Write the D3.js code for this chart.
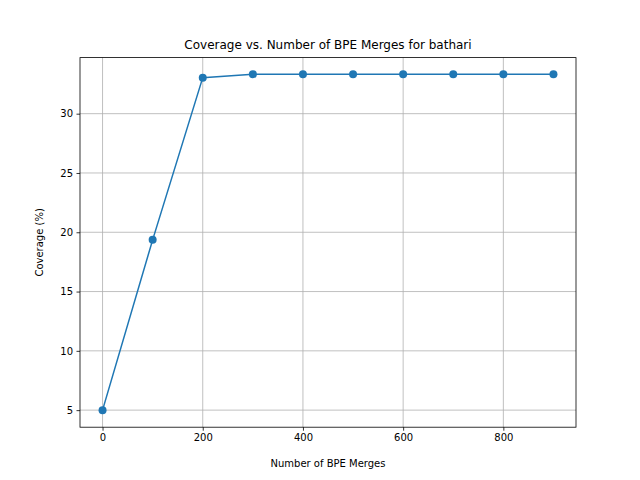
<!DOCTYPE html>
<html><head><meta charset="utf-8">
<script src="https://cdn.jsdelivr.net/npm/d3@7"></script>
<style>body{margin:0;background:#fff}text{font-family:"DejaVu Sans",sans-serif}</style>
</head><body><svg id="chart" width="640" height="480"></svg>
<script>
const merges = [0, 100, 200, 300, 400, 500, 600, 700, 800, 900];
const coverage = [5.0, 19.36, 33.04, 33.33, 33.33, 33.33, 33.33, 33.33, 33.33, 33.33];
const xTicks = [0, 200, 400, 600, 800];
const yTicks = [5, 10, 15, 20, 25, 30];

const svg = d3.select("#chart");
const plotL = 80, plotR = 576, plotT = 57.6, plotB = 427.2;
const x = d3.scaleLinear().domain([-45, 945]).range([plotL, plotR]);
const y = d3.scaleLinear().domain([3.56, 34.73]).range([plotB, plotT]);

// grid
svg.append("g").selectAll("line").data(xTicks).join("line")
  .attr("x1", d => x(d)).attr("x2", d => x(d)).attr("y1", plotT).attr("y2", plotB)
  .attr("stroke", "#b0b0b0").attr("stroke-width", 0.8);
svg.append("g").selectAll("line").data(yTicks).join("line")
  .attr("y1", d => y(d)).attr("y2", d => y(d)).attr("x1", plotL).attr("x2", plotR)
  .attr("stroke", "#b0b0b0").attr("stroke-width", 0.8);

const xAxis = svg.append("g").attr("transform", `translate(0,${plotB})`)
  .call(d3.axisBottom(x).tickValues(xTicks).tickSize(3.5).tickPadding(3.5));
const yAxis = svg.append("g").attr("transform", `translate(${plotL},0)`)
  .call(d3.axisLeft(y).tickValues(yTicks).tickSize(3.5).tickPadding(3.5));
[xAxis, yAxis].forEach(a => {
  a.select(".domain").remove();
  a.selectAll("text").attr("font-size", 10).attr("fill", "#000").style("font-family", "DejaVu Sans");
  a.selectAll("line").attr("stroke", "#000").attr("stroke-width", 0.8);
});

svg.append("rect").attr("x", plotL).attr("y", plotT).attr("width", plotR - plotL).attr("height", plotB - plotT)
  .attr("fill", "none").attr("stroke", "#000").attr("stroke-width", 0.8);

const line = d3.line().x((d, i) => x(merges[i])).y(d => y(d));
svg.append("path").datum(coverage).attr("d", line)
  .attr("fill", "none").attr("stroke", "#1f77b4").attr("stroke-width", 1.5);
svg.append("g").selectAll("circle").data(coverage).join("circle")
  .attr("cx", (d, i) => x(merges[i])).attr("cy", d => y(d)).attr("r", 4)
  .attr("fill", "#1f77b4");

svg.append("text").attr("x", (plotL + plotR) / 2).attr("y", 49).attr("text-anchor", "middle")
  .attr("font-size", 12).text("Coverage vs. Number of BPE Merges for bathari");
svg.append("text").attr("x", (plotL + plotR) / 2).attr("y", 467).attr("text-anchor", "middle")
  .attr("font-size", 10).text("Number of BPE Merges");
svg.append("text").attr("transform", `translate(43,${(plotT + plotB) / 2}) rotate(-90)`)
  .attr("text-anchor", "middle").attr("font-size", 10).text("Coverage (%)");
</script></body></html>
